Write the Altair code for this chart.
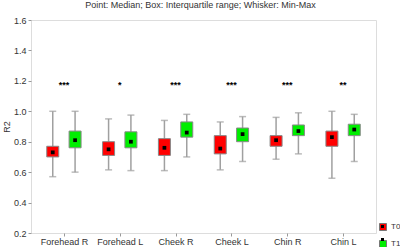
import altair as alt
import pandas as pd

categories = ["Forehead R", "Forehead L", "Cheek R", "Cheek L", "Chin R", "Chin L"]
t0_min = [0.57, 0.615, 0.61, 0.615, 0.685, 0.56]
t0_q1 = [0.70, 0.71, 0.71, 0.72, 0.77, 0.77]
t0_med = [0.73, 0.75, 0.76, 0.755, 0.81, 0.83]
t0_q3 = [0.77, 0.80, 0.82, 0.84, 0.84, 0.87]
t0_max = [1.0, 0.95, 0.94, 0.93, 0.96, 1.0]
t1_min = [0.60, 0.61, 0.70, 0.67, 0.72, 0.67]
t1_q1 = [0.76, 0.76, 0.83, 0.80, 0.84, 0.84]
t1_med = [0.81, 0.80, 0.86, 0.85, 0.87, 0.88]
t1_q3 = [0.87, 0.865, 0.93, 0.89, 0.91, 0.915]
t1_max = [1.0, 0.975, 0.98, 0.965, 0.99, 0.98]
stars = ["***", "*", "***", "***", "***", "**"]
star_level = [1.17] * 6
series_names = ["T0", "T1"]
y_ticks = [0.2, 0.4, 0.6, 0.8, 1.0, 1.2, 1.4, 1.6]

rows = []
for s, (mn, q1, md, q3, mx) in zip(series_names, [(t0_min, t0_q1, t0_med, t0_q3, t0_max),
                                                    (t1_min, t1_q1, t1_med, t1_q3, t1_max)]):
    for i, c in enumerate(categories):
        rows.append(dict(cat=c, idx=i, series=s, mn=mn[i], q1=q1[i], md=md[i], q3=q3[i], mx=mx[i]))
df = pd.DataFrame(rows)
sdf = pd.DataFrame(dict(idx=list(range(len(categories))), star=stars, lvl=star_level))

FONT = "Liberation Sans"
label_expr = "[" + ",".join("'%s'" % c for c in categories) + "][datum.value]"

xscale = alt.Scale(domain=[-0.5, 5.5], nice=False, zero=False)
yscale = alt.Scale(domain=[0.2, 1.6], nice=False, zero=False)

xaxis = alt.Axis(values=list(range(6)), labelExpr=label_expr, title=None, grid=False,
                 labelFont=FONT, labelFontSize=9, labelColor="#333333", tickSize=3,
                 tickColor="#999999", domain=False, labelPadding=1, labelOverlap=False)
yaxis = alt.Axis(values=y_ticks, format=".1f", title="R2", grid=False, labelFont=FONT,
                 labelFontSize=9, labelColor="#333333", titleFont=FONT, titleFontSize=9,
                 titleFontWeight="normal", titleColor="#333333", tickSize=3,
                 tickColor="#999999", domain=False, titlePadding=2, labelOverlap=False,
                 labelPadding=2, labelBound=False)

base = alt.Chart(df).transform_calculate(
    xp="datum.idx + (datum.series == 'T0' ? -0.2 : 0.2)",
    sdot="datum.series"
)

X = alt.X("xp:Q", scale=xscale, axis=xaxis)

whisk = base.mark_rule(color="#a0a0a0", strokeWidth=1.5).encode(
    x=X,
    y=alt.Y("mn:Q", scale=yscale, axis=yaxis),
    y2="mx:Q",
)
caps_lo = base.mark_tick(orient="horizontal", size=7, thickness=1.5, color="#a0a0a0").encode(
    x=X, y=alt.Y("mn:Q", scale=yscale, axis=yaxis))
caps_hi = base.mark_tick(orient="horizontal", size=7, thickness=1.5, color="#a0a0a0").encode(
    x=X, y=alt.Y("mx:Q", scale=yscale, axis=yaxis))
boxes = base.mark_bar(size=12, stroke="#888888", strokeWidth=1).encode(
    x=X,
    y=alt.Y("q1:Q", scale=yscale, axis=yaxis),
    y2="q3:Q",
    fill=alt.Fill("series:N", scale=alt.Scale(domain=series_names, range=["#ff0000", "#00ee00"]),
                  legend=alt.Legend(title=None, orient="none", legendX=348, legendY=203,
                                    symbolType="square", symbolSize=49, symbolStrokeColor="#777777",
                                    symbolStrokeWidth=1, labelFont=FONT, labelFontSize=8,
                                    labelColor="#333333", rowPadding=5, labelOffset=4)),
)
meds = base.mark_point(shape="square", filled=True, size=14, color="black", opacity=1).encode(
    x=X,
    y=alt.Y("md:Q", scale=yscale, axis=yaxis),
    shape=alt.Shape("sdot:N", scale=alt.Scale(range=["square", "square"]),
                    legend=alt.Legend(title=None, orient="none", legendX=350, legendY=205,
                                      symbolSize=9, symbolFillColor="black", symbolStrokeColor="black",
                                      symbolStrokeWidth=0, labelExpr="''", labelFontSize=1,
                                      rowPadding=10, labelOffset=0)),
)
star_text = alt.Chart(sdf).mark_text(font=FONT, fontSize=9, fontWeight="bold", color="black",
                                     baseline="middle").encode(
    x=alt.X("idx:Q", scale=xscale, axis=xaxis),
    y=alt.Y("lvl:Q", scale=yscale, axis=yaxis), text="star:N")

chart = alt.layer(whisk, caps_lo, caps_hi, boxes, meds, star_text).properties(
    width=345, height=213,
    title=alt.TitleParams("Point: Median; Box: Interquartile range; Whisker: Min-Max",
                          font=FONT, fontSize=9, fontWeight="normal", color="#333333",
                          offset=6, dx=-3),
    autosize=alt.AutoSizeParams(type="none"),
    padding={"left": 31, "top": 20, "right": 24, "bottom": 14},
).configure_view(stroke="#888888", strokeWidth=1).configure_axis(
    labelOverlap=False).configure(background="white")

chart.save("out.html", embed_options={"renderer": "svg", "actions": False})
